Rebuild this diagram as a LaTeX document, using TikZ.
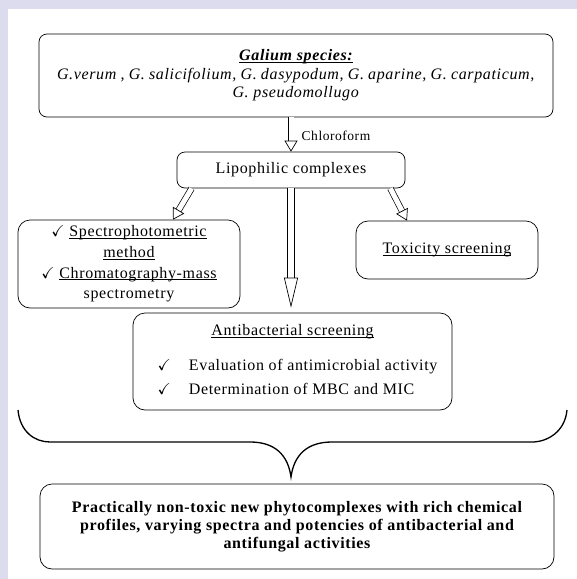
\documentclass[tikz,border=0pt]{standalone}
\usepackage{fontspec}
\setmainfont{Liberation Serif}[LetterSpace=4]
\usepackage{amssymb}
\usetikzlibrary{arrows.meta,positioning}
\definecolor{lavender}{RGB}{220,220,238}
% underline close to the baseline
\newcommand{\uln}[1]{\leavevmode\setbox0\hbox{#1}\rlap{\rule[-1.8pt]{\wd0}{0.6pt}}\box0}

\begin{document}
\begin{tikzpicture}[
    x=1pt, y=-1pt,
    box/.style={draw, line width=0.7pt, rounded corners=8pt, align=center, inner sep=0pt, font=\fontsize{16}{18.5}\selectfont},
    hollow/.style={double, double distance=5pt, line width=0.7pt, -{Triangle[open, length=11pt, width=13pt]}},
    longhead/.style={double distance=6pt, -{Triangle[open, length=30pt, width=14pt]}},
    brace/.style={line width=1.3pt}
]
    % Frame
    \fill[lavender] (0,0) rectangle (577,579);
    \fill[white] (8,9) rectangle (577,579);
    \useasboundingbox (0,0) rectangle (577,579);

    % Species
    \node[box, minimum width=514pt, minimum height=83pt] (species) at (296,75.5)
        {\textit{\textbf{\uln{Galium species:}}}\\
         \makebox[478pt][s]{\textit{G.verum , G. salicifolium, G. dasypodum, G. aparine, G. carpaticum,}}\\
         \textit{G. pseudomollugo}};

    % Extract
    \node[box, minimum width=228pt, minimum height=36pt] (lip) at (291,170) {Lipophilic complexes};

    % Analyses
    \node[box, rounded corners=12pt, minimum width=222pt, minimum height=88pt, font=\fontsize{16}{20.7}\selectfont] (spec) at (129,264)
        {$\checkmark$ \uln{Spectrophotometric}\\
         \uln{method}\\
         $\checkmark$ \uln{Chromatography-mass}\\
         spectrometry};
    \node[box, rounded corners=12pt, minimum width=182pt, minimum height=58pt] (tox) at (447,250) {\uln{Toxicity screening}};
    \node[box, rounded corners=12pt, minimum width=319pt, minimum height=97pt] (anti) at (292.5,361.5)
        {\begin{tabular}{@{\hspace{10pt}}l@{\hspace{18pt}}l@{}}
         \multicolumn{2}{c}{\uln{Antibacterial screening}}\\[16pt]
         $\checkmark$ & Evaluation of antimicrobial activity\\[6pt]
         $\checkmark$ & Determination of MBC and MIC
         \end{tabular}};

    % Result
    \node[box, rounded corners=12pt, minimum width=514pt, minimum height=85pt, font=\bfseries\fontsize{16}{18}\selectfont] (result) at (297,526.5)
        {Practically non-toxic new phytocomplexes with rich chemical\\
         profiles, varying spectra and potencies of antibacterial and\\
         antifungal activities};

    % Arrows
    \draw[hollow] (lip.north |- species.south) -- (lip.north)
        node[midway, right=7pt, yshift=-1pt, font=\fontsize{13.5}{15}\selectfont] (chl) {Chloroform};
    \draw[hollow] ([xshift=15pt]lip.south west) -- ([xshift=44pt]spec.north);
    \draw[hollow, longhead] (lip.south) -- ([yshift=5pt]lip.south |- anti.north);
    \draw[hollow] ([xshift=-15pt]lip.south east) -- ([xshift=-40pt]tox.north);

    % Brace
    \draw[brace] (18,410) .. controls (20,432) and (35,442) .. (50,442) -- (250,442)
        .. controls (275,442) and (288,455) .. (291,477)
        .. controls (294,455) and (307,442) .. (332,442) -- (532,442)
        .. controls (547,442) and (565,432) .. (567,410);
\end{tikzpicture}
\end{document}
